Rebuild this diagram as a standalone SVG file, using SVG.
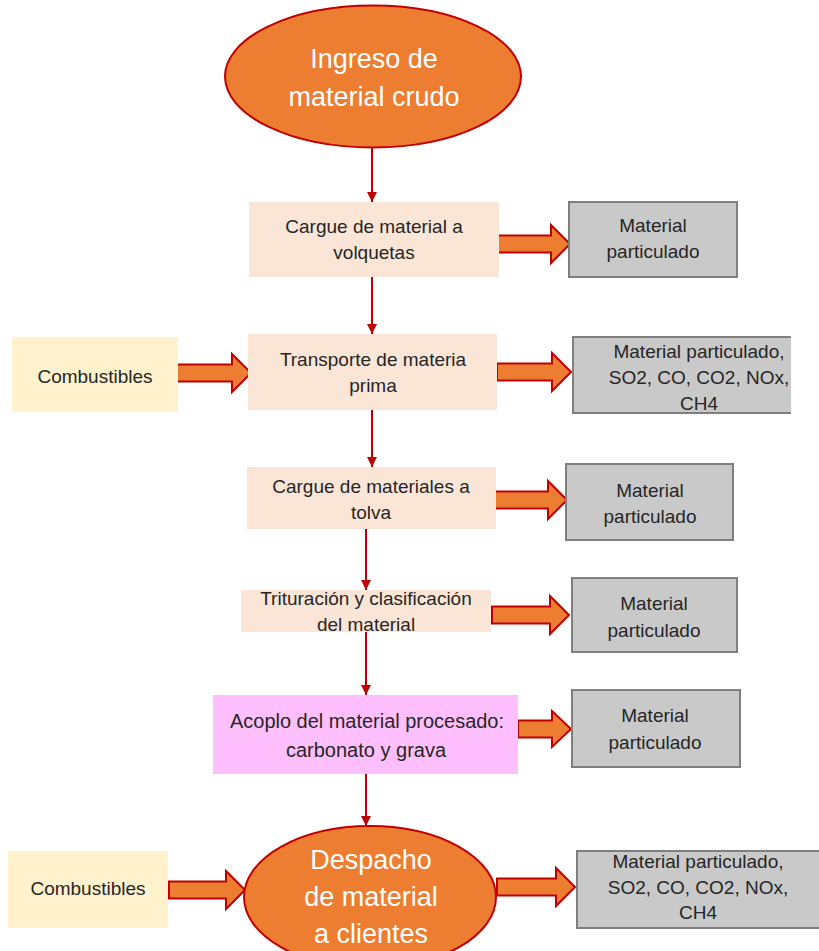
<svg xmlns="http://www.w3.org/2000/svg" width="819" height="951" viewBox="0 0 819 951">
<defs>
<style>
.ell{fill:#ED7D31;stroke:#C00000;stroke-width:2}
.proc{fill:#FBE5D6}
.fuel{fill:#FFF2CC}
.pink{fill:#FFBFFF}
.grey{fill:#C9C9C9;stroke:#7F7F7F;stroke-width:2}
.greyfill{fill:#C9C9C9}
.greyedge{fill:none;stroke:#7F7F7F;stroke-width:2}
.t{font-family:"Liberation Sans",Arial,sans-serif;font-size:19px;fill:#262626;text-anchor:middle}
.tb{font-family:"Liberation Sans",Arial,sans-serif;font-size:27px;fill:#FFFFFF;text-anchor:middle}
.flow{stroke:#C00000;stroke-width:2;fill:none}
.block{fill:#ED7D31;stroke:#C00000;stroke-width:2;stroke-linejoin:miter}
</style>
<marker id="ah" viewBox="0 0 10 10" refX="10" refY="5" markerWidth="5" markerHeight="5" markerUnits="strokeWidth" orient="auto">
<path d="M0,0 L10,5 L0,10 Z" fill="#C00000"/>
</marker>
</defs>
<rect width="819" height="951" fill="#FFFFFF"/>

<g id="connectors">
<line class="flow" x1="372" y1="148" x2="372" y2="202" marker-end="url(#ah)"/>
<line class="flow" x1="372" y1="277" x2="372" y2="334" marker-end="url(#ah)"/>
<line class="flow" x1="372" y1="410" x2="372" y2="467" marker-end="url(#ah)"/>
<line class="flow" x1="366" y1="529" x2="366" y2="590" marker-end="url(#ah)"/>
<line class="flow" x1="366" y1="632" x2="366" y2="695" marker-end="url(#ah)"/>
<line class="flow" x1="366" y1="774" x2="366" y2="826" marker-end="url(#ah)"/>
<path class="block" d="M496,235.5 H551 V225 L570,244 L551,263 V252.5 H496 Z"/>
<path class="block" d="M177,364.5 H232 V354 L251,373 L232,392 V381.5 H177 Z"/>
<path class="block" d="M497,363.5 H552 V353 L571,372 L552,391 V380.5 H497 Z"/>
<path class="block" d="M494,491.5 H548 V481 L567,500 L548,519 V508.5 H494 Z"/>
<path class="block" d="M492,606.5 H550 V596 L569,615 L550,634 V623.5 H492 Z"/>
<path class="block" d="M518,720.5 H552 V711 L571,729 L552,747 V737.5 H518 Z"/>
<path class="block" d="M169,881.5 H226 V871 L245,890 L226,909 V898.5 H169 Z"/>
<path class="block" d="M497,878.5 H556 V868 L575,887 L556,906 V895.5 H497 Z"/>
</g>

<g id="n-ingreso">
<ellipse class="ell" cx="373" cy="76.5" rx="148" ry="71"/>
<text class="tb" x="374" y="68">Ingreso de</text>
<text class="tb" x="374" y="106">material crudo</text>
</g>

<g id="n-cargue-volquetas">
<rect class="proc" x="249" y="202" width="250" height="75"/>
<text class="t" x="374" y="233">Cargue de material a</text>
<text class="t" x="374" y="259">volquetas</text>
</g>

<g id="n-mp1">
<rect class="grey" x="569" y="202" width="168" height="75"/>
<text class="t" x="653" y="232">Material</text>
<text class="t" x="653" y="258">particulado</text>
</g>

<g id="n-comb1">
<rect class="fuel" x="12" y="337" width="166" height="75"/>
<text class="t" x="95" y="383">Combustibles</text>
</g>

<g id="n-transporte">
<rect class="proc" x="248" y="334" width="249" height="76"/>
<text class="t" x="373" y="366">Transporte de materia</text>
<text class="t" x="373" y="392">prima</text>
</g>

<g id="n-emis1">
<rect class="greyfill" x="573" y="337" width="218" height="76"/>
<path class="greyedge" d="M791,337 H573 V413 H791"/>
<text class="t" x="699" y="358">Material particulado,</text>
<text class="t" x="699" y="384">SO2, CO, CO2, NOx,</text>
<text class="t" x="699" y="410">CH4</text>
</g>

<g id="n-cargue-tolva">
<rect class="proc" x="247" y="467" width="249" height="62"/>
<text class="t" x="371" y="493">Cargue de materiales a</text>
<text class="t" x="371" y="519">tolva</text>
</g>

<g id="n-mp3">
<rect class="grey" x="566" y="464" width="167" height="76"/>
<text class="t" x="650" y="497">Material</text>
<text class="t" x="650" y="523">particulado</text>
</g>

<g id="n-trituracion">
<rect class="proc" x="241" y="590" width="250" height="42"/>
<text class="t" x="366" y="605">Trituración y clasificación</text>
<text class="t" x="366" y="631">del material</text>
</g>

<g id="n-mp4">
<rect class="grey" x="572" y="578" width="165" height="74"/>
<text class="t" x="654" y="610">Material</text>
<text class="t" x="654" y="637">particulado</text>
</g>

<g id="n-acoplo">
<rect class="pink" x="213" y="695" width="305" height="79"/>
<text class="t" x="367" y="728" style="font-size:20px" textLength="274" lengthAdjust="spacingAndGlyphs">Acoplo del material procesado:</text>
<text class="t" x="366" y="757" style="font-size:20px">carbonato y grava</text>
</g>

<g id="n-mp5">
<rect class="grey" x="572" y="690" width="168" height="77"/>
<text class="t" x="655" y="722">Material</text>
<text class="t" x="655" y="749">particulado</text>
</g>

<g id="n-comb2">
<rect class="fuel" x="8" y="851" width="160" height="77"/>
<text class="t" x="88" y="895">Combustibles</text>
</g>

<g id="n-despacho">
<ellipse class="ell" cx="370" cy="897" rx="126" ry="71"/>
<text class="tb" x="371" y="869">Despacho</text>
<text class="tb" x="371" y="906">de material</text>
<text class="tb" x="371" y="943">a clientes</text>
</g>

<g id="n-emis2">
<rect class="greyfill" x="577" y="851" width="242" height="77"/>
<path class="greyedge" d="M819,851 H577 V928 H819"/>
<text class="t" x="698" y="868">Material particulado,</text>
<text class="t" x="698" y="894">SO2, CO, CO2, NOx,</text>
<text class="t" x="698" y="919">CH4</text>
</g>
</svg>
